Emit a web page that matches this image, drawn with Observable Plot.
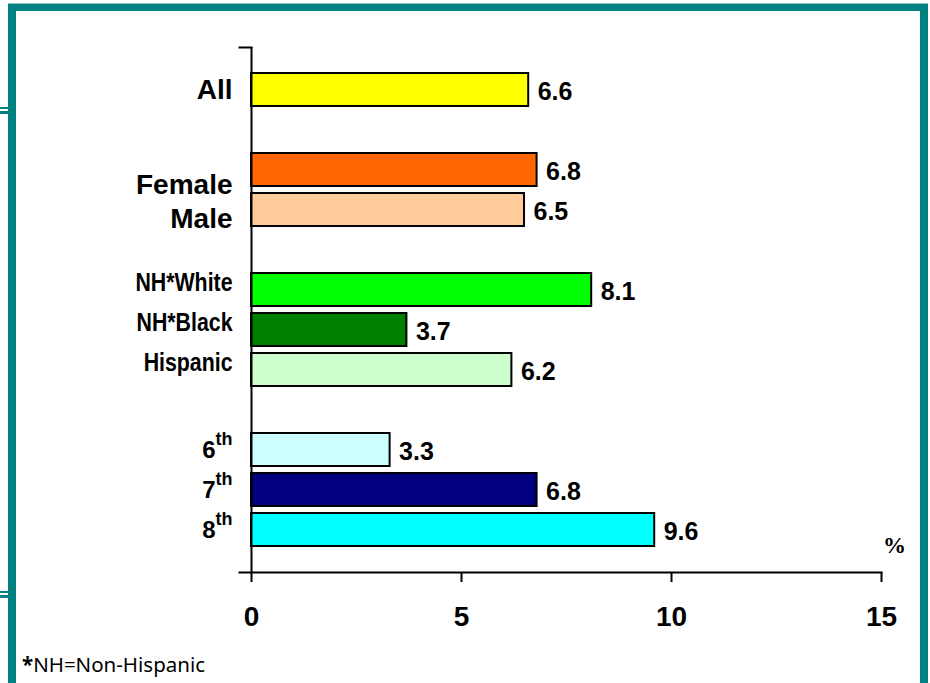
<!DOCTYPE html>
<html>
<head>
<meta charset="utf-8">
<script src="https://cdn.jsdelivr.net/npm/d3@7"></script>
<script src="https://cdn.jsdelivr.net/npm/@observablehq/plot@0.6"></script>
<style>
  html, body { margin: 0; padding: 0; background: #fff; overflow: hidden; }
  #page { position: relative; width: 930px; height: 683px; overflow: hidden; background: #fff; }
  #border { position: absolute; left: 8px; top: 4px; width: 904px; height: 720px;
            border-top: 7px solid #008080; border-left: 8px solid #008080; border-right: 8px solid #008080; }
  #topline { position: absolute; left: 8px; top: 3px; width: 920px; height: 1px; background: #8cc8c8; }
  .eq { position: absolute; left: 0; width: 8px; height: 2px; background: #008080; }
  #chart { position: absolute; left: 0; top: 0; }
  #pct { position: absolute; left: 883px; top: 533px; font: bold 23px "Liberation Serif", "DejaVu Serif", serif; color: #000; }
  #note { position: absolute; left: 22px; top: 650px; font: 20.5px "Noto Sans", "DejaVu Sans", sans-serif; color: #000; }
</style>
</head>
<body>
<div id="page">
  <div id="topline"></div>
  <div id="border"></div>
  <div class="eq" style="top:107px"></div>
  <div class="eq" style="top:111px;height:3px"></div>
  <div class="eq" style="top:591px"></div>
  <div class="eq" style="top:595px;height:3px"></div>
  <div id="chart"></div>
  <div id="pct">%</div>
  <div id="note"><b>*</b>NH=Non-Hispanic</div>
</div>
<script>
// ---- data ----
const categories = ["All", "Female", "Male", "NH*White", "NH*Black", "Hispanic", "6th", "7th", "8th"];
const values = [6.6, 6.8, 6.5, 8.1, 3.7, 6.2, 3.3, 6.8, 9.6];
const barColors = ["#FFFF00", "#FF6600", "#FFCC99", "#00FF00", "#008000", "#CCFFCC", "#CCFFFF", "#000080", "#00FFFF"];
const slotOrder = ["All", " ", "Female", "Male", "  ", "NH*White", "NH*Black", "Hispanic", "   ", "6th", "7th", "8th"];
const xTicks = [0, 5, 10, 15];
const raceLabels = ["NH*White", "NH*Black", "Hispanic"];

const data = categories.map((label, i) => ({label, value: values[i]}));

const font = "'Liberation Sans', Arial, sans-serif";
const axisLabel = (ticks, dy, fontSize) => Plot.axisY(ticks, {
  anchor: "left", tickSize: 0, tickPadding: 19, fontSize, fontWeight: "bold",
  fill: "black", dy, label: null
});

const chart = Plot.plot({
  width: 930, height: 683,
  marginLeft: 251, marginRight: 49, marginTop: 47, marginBottom: 111,
  style: {fontFamily: font, background: "transparent", color: "black", overflow: "visible"},
  x: {domain: [0, 15], axis: null},
  y: {domain: slotOrder, paddingInner: 0.175, paddingOuter: 0.65, round: false, axis: null},
  color: {domain: categories, range: barColors},
  marks: [
    Plot.barX(data, {x: "value", y: "label", fill: "label", stroke: "black", strokeWidth: 2}),
    Plot.ruleX([0], {stroke: "black", strokeWidth: 2}),
    Plot.frame({anchor: "bottom", stroke: "black", strokeWidth: 2, insetLeft: -12}),
    Plot.frame({anchor: "top", stroke: "black", strokeWidth: 2, insetLeft: -12, insetRight: 630}),
    Plot.axisX({ticks: xTicks, tickSize: 10, tickPadding: 24, strokeWidth: 2, fontSize: 28, fontWeight: "bold", label: null}),
    axisLabel(["All"], 0, 28),
    axisLabel(["6th", "7th", "8th"], 0, 24),
    axisLabel(["Female"], 15, 28),
    axisLabel(["Male"], 9, 28),
    axisLabel(raceLabels, -7, 26),
    Plot.text(data, {x: "value", y: "label", text: d => d.value.toFixed(1), textAnchor: "start",
      dx: 9, dy: 2, fontSize: 25, fontWeight: "bold", fill: "black"})
  ]
});
document.getElementById("chart").appendChild(chart);

d3.select(chart).selectAll("text").each(function() {
  const txt = this.textContent;
  // superscript ordinal suffixes
  const m = /^(\d)(th)$/.exec(txt);
  if (m) {
    const t = d3.select(this);
    t.text(m[1]);
    t.append("tspan").attr("dy", -13).attr("font-size", 18).text(m[2]);
  }
  // condensed race/ethnicity labels, as in the original slide
  if (raceLabels.includes(txt)) {
    const w = this.getComputedTextLength();
    d3.select(this).attr("textLength", w * 0.82).attr("lengthAdjust", "spacingAndGlyphs");
  }
});
</script>
</body>
</html>
